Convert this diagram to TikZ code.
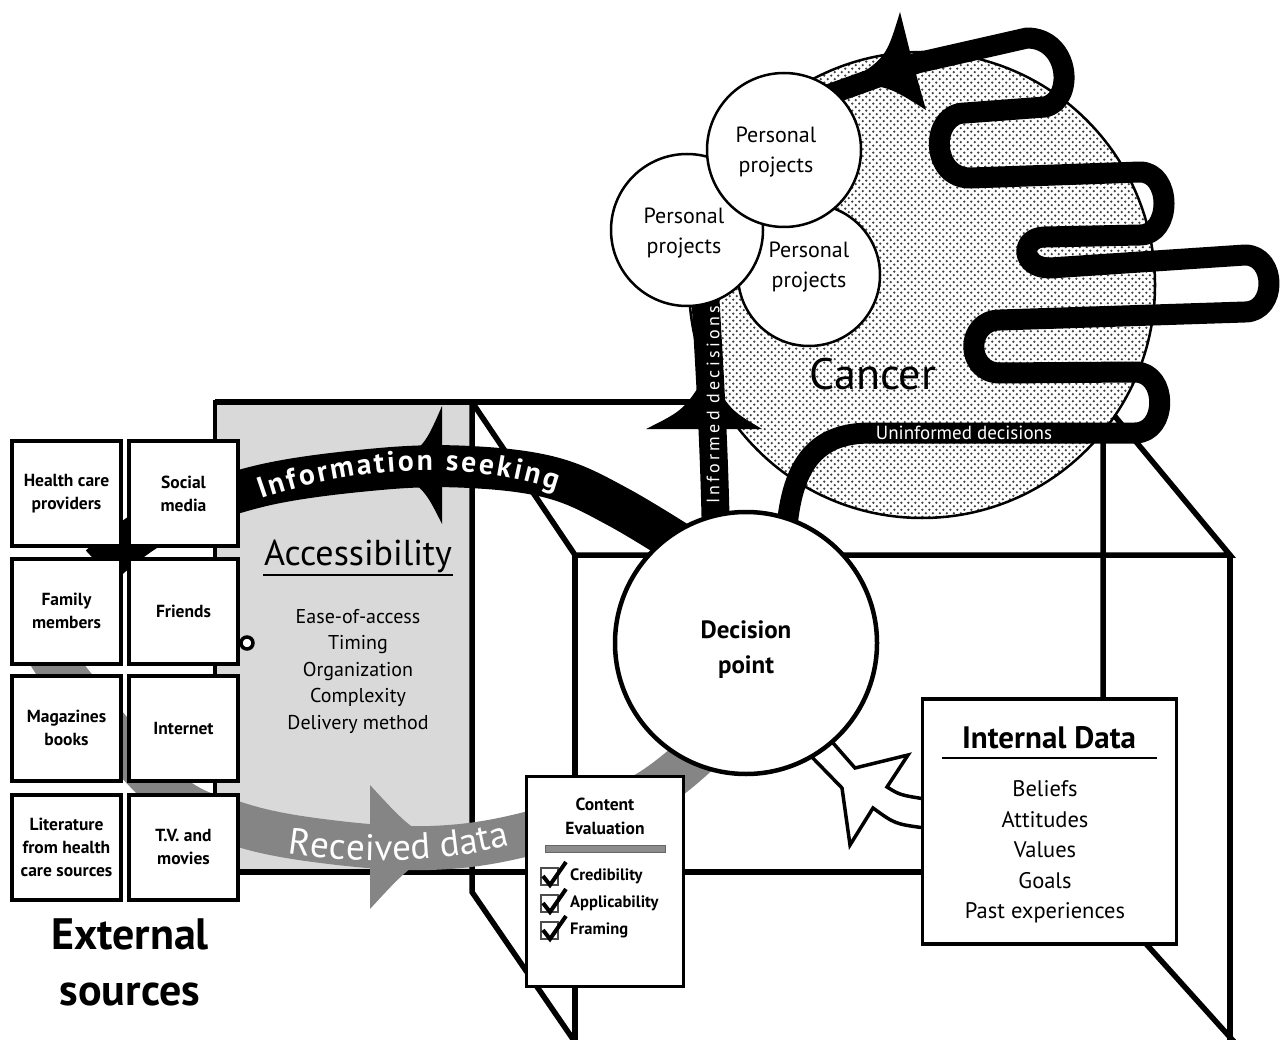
\documentclass[tikz,border=0pt]{standalone}
\usepackage{fontspec}
\setmainfont{PT Sans}
\usetikzlibrary{decorations.text,patterns}
\definecolor{accgray}{HTML}{D9D9D9}
\definecolor{recgray}{HTML}{858585}
\definecolor{dotgray}{HTML}{404040}
\newcommand\fsz[2]{\fontsize{#1}{#2}\selectfont}
\newcommand\infofont{\color{white}\bfseries\fsz{29.5}{29.5}}
\newcommand\recfont{\color{white}\fsz{37}{37}}
\pgfdeclarepatternformonly{bigdots}{\pgfqpoint{-1pt}{-1pt}}{\pgfqpoint{8pt}{8pt}}{\pgfqpoint{7pt}{7pt}}{%
  \pgfpathcircle{\pgfqpoint{1.75pt}{1.75pt}}{1.25pt}%
  \pgfpathcircle{\pgfqpoint{5.25pt}{5.25pt}}{1.25pt}%
  \pgfusepath{fill}}
\tikzset{
  cubeline/.style={line width=5.5pt},
  srcbox/.style={draw, line width=4pt, fill=white, minimum width=109, minimum height=105,
    inner sep=0pt, align=center, font=\fsz{17.5}{23}\bfseries},
  pcircle/.style={draw, circle, line width=2.5pt, fill=white, inner sep=0pt},
  ptext/.style={align=center, font=\fsz{22}{30}},
  band/.style={line width=#1, line join=round},
  whitetxt/.style={text=white, inner sep=0pt},
  checkbox/.style={draw=black!70, line width=1.2pt, fill=white},
  checkmark/.style={line width=4pt, line join=miter},
}
\begin{document}
\begin{tikzpicture}[x=1pt,y=-1pt]
\useasboundingbox (0,0) rectangle (1282,1040);

% accessibility panel
\draw[line width=4pt, fill=accgray] (215,402) rectangle (472,872);

% cube
\draw[cubeline] (215,402) -- (1103,402);
\draw[cubeline] (240,872) -- (1103,872);
\draw[cubeline] (472,402) -- (472,892) -- (577,1045);
\draw[cubeline] (1103,402) -- (1103,896) -- (1237,1045);
\draw[cubeline] (472,402) -- (575,555) -- (1230,555) -- (1103,402);
\draw[cubeline] (575,555) -- (575,1045);
\draw[cubeline] (1230,555) -- (1230,1045);

% received data band
\draw[band=44pt, draw=recgray] plot[smooth, tension=0.6] coordinates
  {(45,640) (62,672) (165,790) (241,825) (330,842) (430,848) (523,835) (640,797) (712,740)};
\fill[recgray] (370,785) .. controls (405,823) .. (442,847) .. controls (405,871) .. (370,909) -- cycle;
\path[decorate, decoration={text along path, text align=fit to path, text={|\recfont|Received data}}]
  (288,853) .. controls (360,864) and (440,864) .. (510,845);

% information seeking band
\draw[band=42pt] plot[smooth, tension=0.6] coordinates
  {(100,566) (160,522) (260,486) (380,469) (470,467) (553,478) (620,508) (705,560)};
\fill (442,406) .. controls (425,445) .. (392,468) .. controls (425,490) .. (442,524) -- cycle;
\path[decorate, decoration={text along path, text align=fit to path, text={|\infofont|Information seeking}}]
  (261,499) .. controls (350,468) and (460,458) .. (556,490);

% cancer
\fill[white] (922,285) circle (233);
\fill[pattern=bigdots, pattern color=dotgray] (922,285) circle (233);
\draw[line width=2.5pt] (922,285) circle (233);
\node[font=\fsz{44}{44}] (cancer) at (873,374) {Cancer};

% informed decisions
\draw[band=28pt] (716,540) .. controls (714,430) and (708,350) .. (705,290);
\fill (646,429) .. controls (684,410) .. (708,372) .. controls (730,410) .. (762,429) -- cycle;

% uninformed decisions / winding path
\draw[band=21pt] (786,540) .. controls (790,465) and (815,433) .. (870,433) -- (1135,433)
  .. controls (1168,433) and (1168,372) .. (1135,372) -- (1000,373)
  .. controls (965,373) and (965,320) .. (1000,320) -- (1245,312)
  .. controls (1277,312) and (1277,255) .. (1245,255) -- (1050,268)
  .. controls (1020,268) and (1020,237) .. (1045,237) -- (1140,235)
  .. controls (1172,235) and (1172,172) .. (1140,172) -- (970,178)
  .. controls (930,178) and (930,113) .. (965,113) -- (1045,107)
  .. controls (1075,100) and (1070,38) .. (1027,38) -- (917,63) -- (800,105);
\fill (845,84) .. controls (886,58) .. (900,12) -- (912,60) -- (926,110) .. controls (888,86) .. (845,84) -- cycle;

% personal projects
\node[pcircle, minimum size=142] (pp3) at (809,275) {};
\node[pcircle, minimum size=152] (pp2) at (687,230) {};
\node[pcircle, minimum size=154] (pp1) at (784,150) {};
\node[ptext] (pt1) at (776,152) {Personal\\projects};
\node[ptext] (pt2) at (684,233) {Personal\\projects};
\node[ptext] (pt3) at (809,267) {Personal\\projects};

\node[whitetxt, rotate=90, font=\fsz{18}{18}\addfontfeature{LetterSpace=18}] (inf) at (713,405) {Informed decisions};
\node[whitetxt, font=\fsz{19}{19}] (uninf) at (964,433) {Uninformed decisions};

% internal data -> decision point hollow arrow
\draw[line width=3.5pt, fill=white, line join=miter] (826,735) -- (855,768) -- (908,755) -- (887,787)
  .. controls (900,795) .. (925,799) -- (925,828) .. controls (895,824) .. (873,808)
  -- (850,845) -- (842,788) -- (805,750) -- cycle;

% decision point
\node[draw, circle, line width=4.5pt, fill=white, minimum size=262, inner sep=0pt] (dp) at (746,643) {};
\node[align=center, font=\fsz{25}{35}\bfseries] (dptext) at (746,650) {Decision\\point};

% content evaluation
\node[draw, line width=3.5pt, fill=white, minimum width=157, minimum height=210, inner sep=0pt] (ce) at (605,881.5) {};
\node[align=center, font=\fsz{17.5}{24}\bfseries] (cetitle) at (605,816) {Content\\Evaluation};
\draw[line width=1pt, draw=black!60, fill=black!45] (545,845) rectangle (665,852);
\foreach \yy/\lbl/\nm in {876/Credibility/c1, 903/Applicability/c2, 930/Framing/c3}{
  \draw[checkbox] (541,\yy-8) rectangle (558,\yy+9);
  \draw[checkmark] (543,\yy) -- (550,\yy+9) -- (566,\yy-14);
  \node[anchor=west, font=\fsz{16.5}{20}\bfseries, inner sep=0pt] (\nm) at (570,\yy) {\lbl};
}

% internal data
\node[draw, line width=3.5pt, fill=white, minimum width=254, minimum height=245, inner sep=0pt] (intd) at (1049.5,821.5) {};
\node[font=\fsz{31}{31}\bfseries] (inttitle) at (1049,738) {Internal Data};
\draw[line width=2pt] (942,758) -- (1157,758);
\node[align=center, font=\fsz{22.5}{30.5}] (intlist) at (1045,852) {Beliefs\\Attitudes\\Values\\Goals\\Past experiences};

% accessibility text
\node[font=\fsz{36}{36}] (acc) at (358,556) {Accessibility};
\draw[line width=2pt] (263,575) -- (453,575);
\node[align=center, font=\fsz{20}{26.5}] (acclist) at (358,671) {Ease-of-access\\Timing\\Organization\\Complexity\\Delivery method};

% external sources
\node[srcbox] (s1) at (66.5,493.5) {Health care\\providers};
\node[srcbox] (s2) at (183.5,493.5) {Social\\media};
\node[srcbox] (s3) at (66.5,611) {Family\\members};
\node[srcbox] (s4) at (183.5,611) {Friends};
\node[srcbox] (s5) at (66.5,728) {Magazines\\books};
\node[srcbox] (s6) at (183.5,728) {Internet};
\node[srcbox] (s7) at (66.5,847) {Literature\\from health\\care sources};
\node[srcbox] (s8) at (183.5,847) {T.V. and\\movies};
\node[circle, draw, line width=3.5pt, fill=white, minimum size=12, inner sep=0pt] (ring) at (247,643) {};
\node[align=center, font=\fsz{44}{56}\bfseries] (ext) at (130,962) {External\\sources};
\end{tikzpicture}
\end{document}
